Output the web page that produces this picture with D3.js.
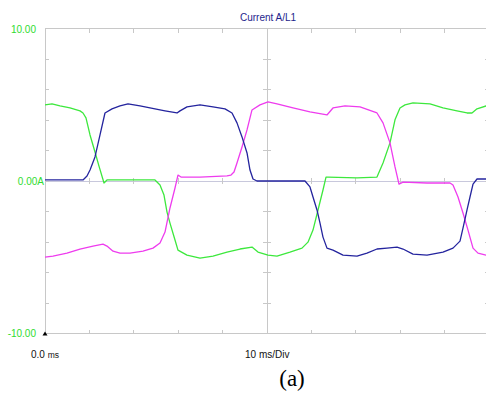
<!DOCTYPE html>
<meta charset="utf-8">
<head>
	<title> Current A/L1 </title>
	<style>
		body { margin: 0; background: #fff; }
		.trace { fill: none; stroke-width: 1.3px; stroke-linejoin: round; }
		.grid { stroke: #c8c8c8; stroke-width: 1px; shape-rendering: crispEdges; }
		.lbl { font-family: "Liberation Sans", Arial, sans-serif; font-size: 10px; }
	</style>
</head>
<body>
  <div class="container"></div>
</body>

<script src="https://cdnjs.cloudflare.com/ajax/libs/d3/7.8.5/d3.min.js"></script>

<script type="text/javascript">

	// Scope time base and current range
	var tDomain = [0, 100];      // ms, 10 ms/Div
	var iDomain = [-10, 10];     // A
	var xDivs = d3.range(0, 101, 10);
	var yDivs = d3.range(-10, 10.1, 2);

	// Traces, [time ms, current A]
	var greenTrace = [
		[0, 4.99], [1.58, 5.06], [3.38, 4.93], [5.63, 4.79], [7.88, 4.60], [8.56, 4.46], [9.23, 4.14],
		[10.14, 3.02], [11.26, 1.90], [12.16, 0.98], [13.29, -0.13], [13.96, 0.07], [24.77, 0.07],
		[25.9, -0.26], [26.8, -0.92], [27.48, -2.04], [28.15, -2.76], [29.28, -3.87], [29.95, -4.53],
		[31.98, -4.86], [34.91, -5.06], [37.84, -4.92], [40.99, -4.66], [43.92, -4.46], [46.62, -4.33],
		[47.97, -4.66], [50.23, -4.86], [52.25, -4.92], [55.18, -4.66], [57.88, -4.40], [59.23, -4.01],
		[60.36, -3.22], [61.49, -1.90], [62.61, -0.59], [63.29, 0.26], [63.74, 0.26], [70.27, 0.20],
		[74.77, 0.26], [76.13, 1.18], [77.7, 2.50], [78.83, 4.01], [79.95, 4.79], [81.08, 4.99],
		[82.88, 5.12], [86.71, 5.06], [89.64, 4.79], [92.79, 4.60], [95.05, 4.46], [96.17, 4.46],
		[97.3, 4.73], [99.32, 4.92], [100, 4.95]
	];
	var blueTrace = [
		[0, 0.07], [8.56, 0.07], [9.46, 0.33], [10.14, 0.72], [11.26, 1.58], [12.39, 3.02], [13.51, 4.46],
		[15.09, 4.73], [16.89, 4.92], [18.69, 5.06], [21.4, 4.92], [24.77, 4.73], [27.03, 4.60],
		[29.73, 4.46], [30.41, 4.60], [31.98, 4.86], [34.91, 4.99], [37.84, 4.86], [40.54, 4.73],
		[42.12, 4.46], [43.24, 3.81], [44.37, 2.89], [45.5, 1.84], [46.17, 0.72], [46.85, 0.13],
		[47.75, 0], [58.56, 0], [59.68, -0.39], [60.36, -1.05], [61.26, -1.90], [61.94, -2.76],
		[62.61, -3.68], [63.51, -4.40], [64.86, -4.53], [67.12, -4.86], [70.27, -4.92], [72.52, -4.73],
		[74.77, -4.46], [77.03, -4.40], [79.28, -4.33], [80.63, -4.46], [82.88, -4.79], [86.04, -4.86],
		[89.64, -4.66], [91.89, -4.40], [93.47, -3.94], [94.14, -3.09], [95.05, -1.90], [95.72, -1.05],
		[96.4, -0.20], [97.3, 0.13], [100, 0.13]
	];
	var magentaTrace = [
		[0, -4.99], [1.8, -4.92], [4.95, -4.73], [7.88, -4.46], [10.81, -4.27], [13.06, -4.14],
		[13.96, -4.27], [15.32, -4.60], [16.89, -4.73], [19.14, -4.73], [22.07, -4.60], [24.32, -4.40],
		[25.9, -4.07], [27.03, -3.35], [28.15, -1.77], [29.28, -0.46], [29.95, 0.39], [30.63, 0.26],
		[34.91, 0.26], [40.99, 0.33], [41.89, 0.39], [42.57, 0.59], [43.24, 1.18], [44.37, 2.23],
		[45.5, 3.35], [46.62, 4.66], [48.42, 4.99], [50.23, 5.19], [52.25, 5.06], [55.86, 4.79],
		[59.68, 4.53], [63.51, 4.33], [64.86, 4.79], [67.57, 4.92], [70.95, 4.86], [74.77, 4.46],
		[76.13, 3.81], [77.7, 2.50], [78.83, 0.92], [79.73, -0.20], [80.63, -0.07], [86.04, -0.13],
		[91.22, -0.13], [91.89, -0.26], [93.02, -1.05], [94.14, -2.10], [95.27, -3.22], [96.4, -4.40],
		[97.52, -4.73], [99.32, -4.86], [100, -4.88]
	];

	var width = 486;
	var height = 400;

	var svg = d3.select(".container").append("svg")
		.attr("width", width)
		.attr("height", height);

	var x = d3.scaleLinear().domain(tDomain).range([45, 489]);
	var y = d3.scaleLinear().domain(iDomain).range([333.5, 28.5]);

	// frame and centre cross
	var g = svg.append("g").attr("class", "grid");
	g.append("line").attr("x1", x(0)).attr("x2", x(100)).attr("y1", y(10)).attr("y2", y(10));
	g.append("line").attr("x1", x(0)).attr("x2", x(100)).attr("y1", y(-10)).attr("y2", y(-10));
	g.append("line").attr("x1", x(0)).attr("x2", x(0)).attr("y1", y(10)).attr("y2", y(-10));
	g.append("line").attr("x1", x(100)).attr("x2", x(100)).attr("y1", y(10)).attr("y2", y(-10));
	g.append("line").attr("x1", x(50)).attr("x2", x(50)).attr("y1", y(10)).attr("y2", y(-10));
	g.append("line").attr("x1", x(0)).attr("x2", x(100)).attr("y1", y(0)).attr("y2", y(0))
		.style("stroke", "#c8c8dc");

	// division ticks
	xDivs.slice(1, -1).forEach(function (t) {
		g.append("line").attr("x1", x(t)).attr("x2", x(t)).attr("y1", y(10)).attr("y2", y(10) + 4);
		g.append("line").attr("x1", x(t)).attr("x2", x(t)).attr("y1", y(-10)).attr("y2", y(-10) - 4);
		g.append("line").attr("x1", x(t)).attr("x2", x(t)).attr("y1", y(0) - 3).attr("y2", y(0) + 3);
	});
	yDivs.slice(1, -1).forEach(function (v) {
		g.append("line").attr("x1", x(0)).attr("x2", x(0) + 4).attr("y1", y(v)).attr("y2", y(v));
		g.append("line").attr("x1", x(100)).attr("x2", x(100) - 4).attr("y1", y(v)).attr("y2", y(v));
		g.append("line").attr("x1", x(50) - 4).attr("x2", x(50) + 4).attr("y1", y(v)).attr("y2", y(v));
	});

	// small trigger marker
	svg.append("path")
		.attr("d", "M" + (x(0) - 2.5) + "," + (y(-10) + 2) + "l2.5,-4l2.5,4z")
		.attr("fill", "#000");

	// traces
	var line = d3.line()
		.x(function (d) { return x(d[0]); })
		.y(function (d) { return y(d[1]); });

	[[greenTrace, "#3de83d"], [magentaTrace, "#ee3cee"], [blueTrace, "#24249e"]].forEach(function (s) {
		svg.append("path").datum(s[0])
			.attr("class", "trace")
			.attr("stroke", s[1])
			.attr("d", line);
	});

	// labels
	var green = "#2fdc2f";
	svg.append("text").attr("class", "lbl").attr("x", 36).attr("y", 33)
		.attr("text-anchor", "end").attr("fill", green).text("10.00");
	svg.append("text").attr("class", "lbl").attr("x", 44).attr("y", 185)
		.attr("text-anchor", "end").attr("fill", green).text("0.00A");
	svg.append("text").attr("class", "lbl").attr("x", 36).attr("y", 337)
		.attr("text-anchor", "end").attr("fill", green).text("-10.00");

	svg.append("text").attr("class", "lbl").attr("x", 240).attr("y", 21)
		.attr("fill", "#1e1e8c").text("Current A/L1");

	var t0 = svg.append("text").attr("class", "lbl").attr("x", 31).attr("y", 358).attr("fill", "#111");
	t0.append("tspan").text("0.0 ");
	t0.append("tspan").style("font-size", "8.5px").text("ms");
	svg.append("text").attr("class", "lbl").attr("x", 245).attr("y", 358)
		.attr("fill", "#111").text("10 ms/Div");

	svg.append("text").attr("x", 292).attr("y", 386)
		.attr("text-anchor", "middle")
		.style("font-family", "'Liberation Serif', 'Times New Roman', serif")
		.style("font-size", "23px")
		.attr("fill", "#000")
		.text("(a)");

</script>
</html>
